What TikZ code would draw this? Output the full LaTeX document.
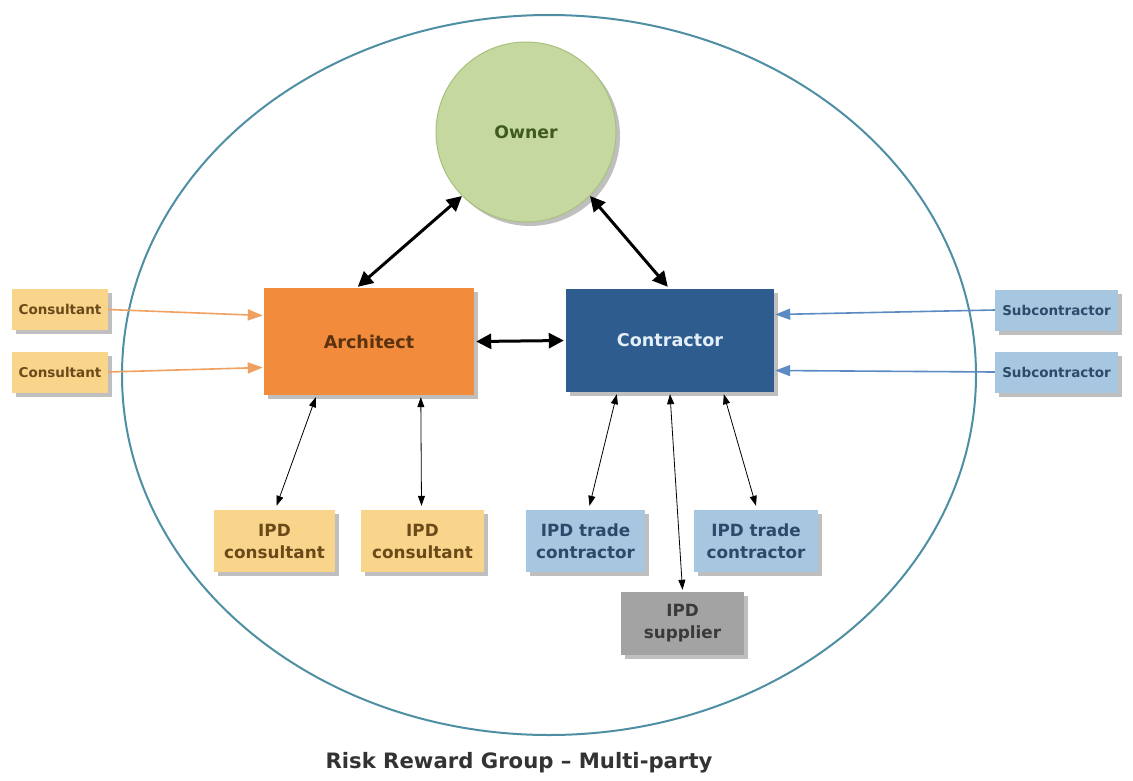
\documentclass[tikz,border=0pt]{standalone}
\usepackage{fontspec}
\setmainfont{DejaVu Sans}
\usetikzlibrary{arrows.meta,shadows,calc}
\definecolor{ringc}{HTML}{4E8FA3}
\definecolor{ownerf}{HTML}{C5D8A0}
\definecolor{ownerd}{HTML}{A9C07F}
\definecolor{ownert}{HTML}{3E5A1E}
\definecolor{archf}{HTML}{F28B3B}
\definecolor{archt}{HTML}{5A3210}
\definecolor{contrf}{HTML}{2E5C8E}
\definecolor{contrt}{HTML}{E4EEF8}
\definecolor{consf}{HTML}{F9D58C}
\definecolor{const}{HTML}{6B4A1A}
\definecolor{subf}{HTML}{A7C6DF}
\definecolor{subt}{HTML}{2C4A6A}
\definecolor{suppf}{HTML}{A3A3A3}
\definecolor{suppt}{HTML}{3A3A3A}
\definecolor{orarrow}{HTML}{F0A060}
\definecolor{blarrow}{HTML}{5C8BC4}
\definecolor{capt}{HTML}{333333}
\tikzset{
  shad/.style={drop shadow={shadow xshift=4pt,shadow yshift=-4pt,fill=black,opacity=0.25}},
  boxbase/.style={shad,rectangle,inner sep=0pt,align=center,font=\bfseries},
  smallbox/.style={boxbase,minimum height=41pt,font=\fontsize{13.5}{16}\selectfont\bfseries},
  ipdbox/.style={boxbase,minimum width=121pt,minimum height=62pt,font=\fontsize{16.8}{22}\selectfont\bfseries},
  bigbox/.style={boxbase,font=\fontsize{17.6}{21}\selectfont\bfseries},
  thickarrow/.style={line width=3pt,black,{Triangle[length=15pt,width=15pt]}-{Triangle[length=15pt,width=15pt]}},
  thinarrow/.style={line width=0.8pt,black,{Triangle[length=10pt,width=7pt]}-{Triangle[length=10pt,width=7pt]}},
  orangearrow/.style={line width=1.6pt,orarrow,-{Triangle[length=15pt,width=11pt]}},
  bluearrow/.style={line width=1.6pt,blarrow,-{Triangle[length=15pt,width=11pt]}},
}
\begin{document}
\begin{tikzpicture}[x=1pt,y=-1pt]
\useasboundingbox (0,0) rectangle (1133,780);
\fill[white] (0,0) rectangle (1133,780);
% big ring
\draw[ringc,line width=2pt] (549,375) ellipse [x radius=427, y radius=360];
% nodes
\node[circle,shad,fill=ownerf,draw=ownerd,line width=1pt,minimum size=180pt,text=ownert,font=\fontsize{17.3}{21}\selectfont\bfseries] (owner) at (526,132) {Owner};
\node[bigbox,fill=archf,text=archt,minimum width=210pt,minimum height=107pt] (arch) at (369,341.5) {Architect};
\node[bigbox,fill=contrf,text=contrt,minimum width=208pt,minimum height=103pt] (contr) at (670,340.5) {Contractor};
\node[smallbox,fill=consf,text=const,minimum width=96pt] (cons1) at (60,309.5) {Consultant};
\node[smallbox,fill=consf,text=const,minimum width=96pt] (cons2) at (60,372) {Consultant};
\node[smallbox,fill=subf,text=subt,minimum width=123pt] (sub1) at (1056.5,310) {Subcontractor};
\node[smallbox,fill=subf,text=subt,minimum width=123pt] (sub2) at (1056.5,372) {Subcontractor};
\node[ipdbox,fill=consf,text=const] (ipdc1) at (274.5,541) {IPD\\consultant};
\node[ipdbox,fill=consf,text=const,minimum width=123pt] (ipdc2) at (422.5,541) {IPD\\consultant};
\node[ipdbox,fill=subf,text=subt,minimum width=119pt] (tc1) at (585.5,541) {IPD trade\\contractor};
\node[ipdbox,fill=subf,text=subt,minimum width=124pt] (tc2) at (756,541) {IPD trade\\contractor};
\node[ipdbox,fill=suppf,text=suppt,minimum width=123pt,minimum height=63pt] (supp) at (682.5,623.5) {IPD\\supplier};
% caption
\node[text=capt,font=\fontsize{21.2}{25}\selectfont\bfseries] (cap) at (519,763) {Risk Reward Group – Multi-party};
% thick arrows
\draw[thickarrow] (owner.225) -- ($(arch.north west)+(94,-1)$);
\draw[thickarrow] (owner.-45) -- ($(contr.north west)+(102,-2)$);
\draw[thickarrow] ($(arch.east)+(2,0)$) -- ($(contr.west)+(-2,0)$);
% consultant arrows
\draw[orangearrow] (cons1.east) -- ($(arch.west)+(-1,-26)$);
\draw[orangearrow] (cons2.east) -- ($(arch.west)+(-1,26)$);
% subcontractor arrows
\draw[bluearrow] (sub1.west) -- ($(contr.east)+(1,-26)$);
\draw[bluearrow] (sub2.west) -- ($(contr.east)+(1,30)$);
% thin arrows
\draw[thinarrow] ($(arch.south west)+(52,2)$) -- ($(ipdc1.north)+(2,-4)$);
\draw[thinarrow] ($(arch.south west)+(157,2)$) -- ($(ipdc2.north)+(-1,-4)$);
\draw[thinarrow] ($(contr.south west)+(51,2)$) -- ($(tc1.north)+(4,-4)$);
\draw[thinarrow] ($(contr.south)+(0,2)$) -- ($(supp.north)+(0,-2)$);
\draw[thinarrow] ($(contr.south west)+(158,2)$) -- ($(tc2.north)+(0,-4)$);
\end{tikzpicture}
\end{document}
